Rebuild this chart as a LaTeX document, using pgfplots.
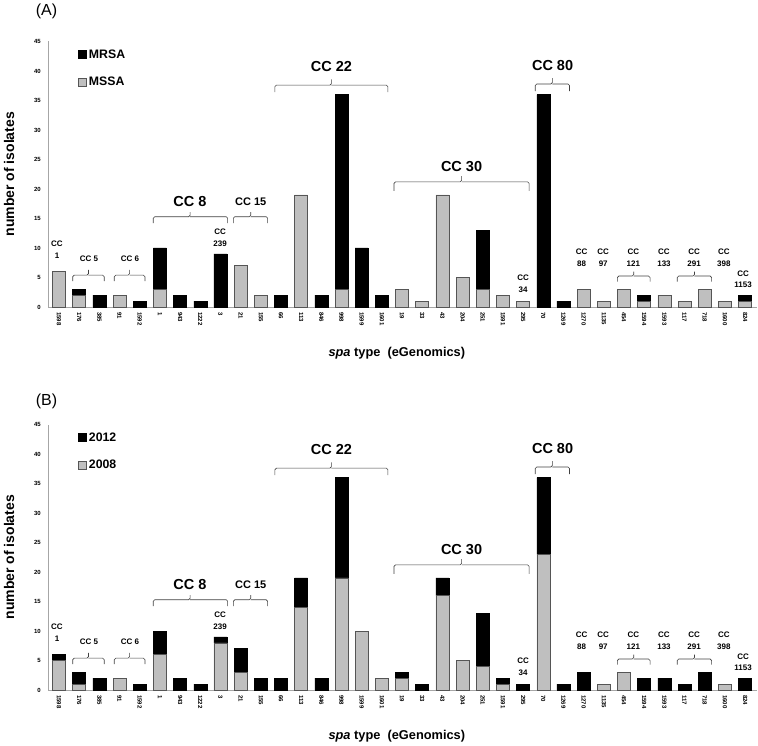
\documentclass[border=0pt]{standalone}
\usepackage{fontspec}
\setmainfont{Liberation Sans}
\usepackage{pgfplots}
\usepackage{pgfplotstable}
\pgfplotsset{compat=1.18}

\pgfplotstableread{
x mssa mrsa
0 6 0
1 2 1
2 0 2
3 2 0
4 0 1
5 3 7
6 0 2
7 0 1
8 0 9
9 7 0
10 2 0
11 0 2
12 19 0
13 0 2
14 3 33
15 0 10
16 0 2
17 3 0
18 1 0
19 19 0
20 5 0
21 3 10
22 2 0
23 1 0
24 0 36
25 0 1
26 3 0
27 1 0
28 3 0
29 1 1
30 2 0
31 1 0
32 3 0
33 1 0
34 1 1
}\dataA

\pgfplotstableread{
x y2008 y2012
0 5 1
1 1 2
2 0 2
3 2 0
4 0 1
5 6 4
6 0 2
7 0 1
8 8 1
9 3 4
10 0 2
11 0 2
12 14 5
13 0 2
14 19 17
15 10 0
16 2 0
17 2 1
18 0 1
19 16 3
20 5 0
21 4 9
22 1 1
23 0 1
24 23 13
25 0 1
26 0 3
27 1 0
28 3 0
29 0 2
30 0 2
31 0 1
32 0 3
33 1 0
34 0 2
}\dataB

\definecolor{bargray}{HTML}{BFBFBF}
\definecolor{baredge}{HTML}{555555}
\definecolor{axgray}{HTML}{A6A6A6}
\definecolor{brcol}{HTML}{404040}

\newcommand\bigf{\bfseries\fontsize{14.5}{14.5}\selectfont}
\newcommand\midf{\bfseries\fontsize{11}{11}\selectfont}
\newcommand\smf{\bfseries\fontsize{8}{11.8}\selectfont}

% bracket: x1, x2, xmid, yH, yEnd, yTick
\newcommand\ccb[6]{\draw[brcol, line width=0.6pt, rounded corners=1.5pt] (axis cs:#1,#5) -- (axis cs:#1,#4) -- (axis cs:#3,#4) -- (axis cs:#3,#6);
\draw[brcol, line width=0.6pt, rounded corners=1.5pt] (axis cs:#3,#4) -- (axis cs:#2,#4) -- (axis cs:#2,#5);}

\newcommand\annot{%
  \ccb{0.68}{2.24}{1.46}{5.4}{4.4}{6.3}
  \ccb{2.74}{4.26}{3.5}{5.4}{4.4}{6.3}
  \ccb{4.67}{8.36}{6.5}{15.3}{14.2}{16.1}
  \ccb{8.64}{10.34}{9.5}{15.3}{14.2}{16.1}
  \ccb{10.7}{16.3}{13.5}{37.6}{36.4}{38.6}
  \ccb{16.6}{23.3}{19.95}{21.2}{19.7}{22.2}
  \ccb{23.6}{25.3}{24.45}{37.8}{36.6}{38.8}
  \ccb{27.67}{29.29}{28.48}{5.25}{4.3}{6.0}
  \ccb{30.64}{32.34}{31.49}{5.25}{4.3}{6.0}
  \node[font=\smf, align=center] at (axis cs:-0.1,9.65) {CC\\1};
  \node[font=\smf] at (axis cs:1.49,8.25) {CC 5};
  \node[font=\smf] at (axis cs:3.52,8.25) {CC 6};
  \node[font=\bigf] at (axis cs:6.49,17.8) {CC 8};
  \node[font=\midf] at (axis cs:9.5,17.8) {CC 15};
  \node[font=\smf, align=center] at (axis cs:7.98,11.8) {CC\\239};
  \node[font=\bigf] at (axis cs:13.5,40.7) {CC 22};
  \node[font=\bigf] at (axis cs:19.95,23.8) {CC 30};
  \node[font=\smf, align=center] at (axis cs:23.0,4.0) {CC\\34};
  \node[font=\bigf] at (axis cs:24.46,40.9) {CC 80};
  \node[font=\smf, align=center] at (axis cs:25.9,8.4) {CC\\88};
  \node[font=\smf, align=center] at (axis cs:26.97,8.4) {CC\\97};
  \node[font=\smf, align=center] at (axis cs:28.46,8.4) {CC\\121};
  \node[font=\smf, align=center] at (axis cs:29.98,8.4) {CC\\133};
  \node[font=\smf, align=center] at (axis cs:31.47,8.4) {CC\\291};
  \node[font=\smf, align=center] at (axis cs:32.95,8.4) {CC\\398};
  \node[font=\smf, align=center] at (axis cs:33.9,4.7) {CC\\1153};
}

\pgfplotsset{
  panel/.style={
    scale only axis,
    width=709pt, height=265.5pt,
    anchor=south west,
    ybar stacked, bar width=13pt,
    xmin=-0.545, xmax=34.59,
    ymin=0, ymax=45,
    ytick={0,5,...,45},
    xtick={0,...,34},
    xticklabels={1598,176,385,91,1592,1,943,1222,3,21,155,66,113,846,998,1599,1601,19,33,43,204,251,1591,295,70,1269,1270,1135,454,1594,1593,117,718,1600,824},
    axis x line=bottom, axis y line=left,
    axis line style={-, draw=axgray, line width=0.8pt},
    major tick length=0pt,
    /pgf/number format/assume math mode=true,
    yticklabel style={font=\bfseries\fontsize{6}{6}\selectfont, anchor=east, inner sep=0pt, xshift=-7pt},
    xticklabel style={font=\bfseries\fontsize{6}{6}\selectfont, rotate=-90, anchor=west, inner xsep=5pt, inner ysep=0pt},
    clip=false,
    ylabel={number of isolates},
    ylabel style={font=\bfseries\fontsize{14}{14}\selectfont, at={(axis description cs:-0.055,0.5)}, anchor=center},
    xlabel={\textit{spa} type\ \ (eGenomics)},
    xlabel style={font=\bfseries\fontsize{12.8}{12.8}\selectfont, at={(axis description cs:0.492,-0.173)}, anchor=center},
    reverse legend,
    legend image code/.code={\draw[#1] (0pt,-4pt) rectangle (8pt,4pt);},
    legend style={at={(axis description cs:0.0427,0.978)}, anchor=north west, draw=none, fill=none, inner sep=0pt, row sep=13.5pt, font=\bfseries\fontsize{12.3}{12.3}\selectfont, /tikz/every even column/.append style={column sep=1pt}},
    legend cell align=left,
  },
  graybar/.style={fill=bargray, draw=baredge, line width=0.5pt},
  blackbar/.style={fill=black, draw=black, line width=0.5pt},
}

\begin{document}
\begin{tikzpicture}
\useasboundingbox (0,0) rectangle (758pt,745pt);
\node[font=\fontsize{16}{16}\selectfont] at (46.5pt,733.5pt) {(A)};
\node[font=\fontsize{16}{16}\selectfont] at (46.5pt,343.5pt) {(B)};

\begin{axis}[panel, at={(48pt,438pt)}]
  \addplot[graybar] table[x=x, y=mssa] {\dataA};
  \addlegendentry{MSSA}
  \addplot[blackbar] table[x=x, y=mrsa] {\dataA};
  \addlegendentry{MRSA}
  \annot
\end{axis}

\begin{axis}[panel, at={(48pt,55pt)}]
  \addplot[graybar] table[x=x, y=y2008] {\dataB};
  \addlegendentry{2008}
  \addplot[blackbar] table[x=x, y=y2012] {\dataB};
  \addlegendentry{2012}
  \annot
\end{axis}
\end{tikzpicture}
\end{document}
